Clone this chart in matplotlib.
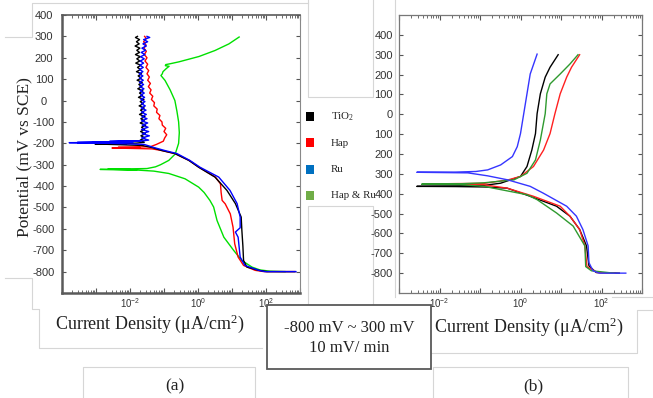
import numpy as np
import matplotlib
matplotlib.use('Agg')
import matplotlib.pyplot as plt
from matplotlib.transforms import Affine2D
from matplotlib.patches import Rectangle
from matplotlib.lines import Line2D
from matplotlib.ticker import FixedLocator, FuncFormatter, LogLocator, NullFormatter

plt.rcParams['font.family'] = ['Liberation Sans Narrow', 'Liberation Sans', 'DejaVu Sans']
plt.rcParams['mathtext.fontset'] = 'custom'
plt.rcParams['mathtext.rm'] = 'Liberation Serif'
plt.rcParams['mathtext.it'] = 'Liberation Serif:italic'
plt.rcParams['mathtext.bf'] = 'Liberation Serif:bold'

# ---------------- data ----------------
series_names = ['TiO$_2$', 'Hap', 'Ru', 'Hap & Ru']
legend_colors = ['#000000', '#ff0000', '#0070c0', '#70ad47']

# panel (a): potential (mV vs SCE) and log10 current density (uA/cm2)
a_tio2_E = [-800, -800, -794, -779, -748, -680, -607, -545, -482, -420, -358, -312, -280, -248, -234, -220,
            -210, -206, -203, -201, -204, -199,
            -195, -185, -175, -165, -155, -145, -135, -125, -115, -105, -95, -85, -75, -65, -55, -45, -35,
            -25, -15, -5, 5, 15, 25, 35, 45, 55, 65, 75, 85, 95, 105, 115, 125, 135, 145, 155, 165, 175,
            185, 195, 205, 215, 225, 235, 245, 255, 265, 275, 285, 295, 300]
a_tio2_logi = [2.85, 2.03, 1.79, 1.44, 1.34, 1.32, 1.29, 1.27, 1.10, 0.85, 0.50, 0.02, -0.27, -0.68, -1.06, -1.35,
               -1.65, -2.40, -3.03, -2.10, -2.80, -1.80,
               -1.58, -1.70, -1.56, -1.68, -1.55, -1.69, -1.57, -1.66, -1.54, -1.70, -1.58, -1.68, -1.56,
               -1.72, -1.60, -1.69, -1.58, -1.73, -1.61, -1.70, -1.59, -1.75, -1.63, -1.72, -1.62, -1.77,
               -1.65, -1.74, -1.64, -1.79, -1.67, -1.76, -1.66, -1.81, -1.69, -1.78, -1.68, -1.83, -1.71,
               -1.80, -1.70, -1.84, -1.72, -1.80, -1.71, -1.85, -1.73, -1.81, -1.72, -1.84, -1.78]

a_hap_E = [-800, -800, -800, -794, -771, -732, -670, -592, -530, -483, -467, -430, -389, -358, -312, -280,
           -248, -234, -226, -222, -220, -219, -216,
           -205, -190, -175, -160, -145, -130, -115, -100, -85, -70, -55, -40, -25, -10, 5, 20, 35, 50, 65,
           80, 95, 110, 125, 140, 155, 170, 185, 200, 215, 230, 245, 260, 275, 290, 300]
a_hap_logi = [2.85, 2.50, 1.94, 1.68, 1.34, 1.18, 1.08, 1.03, 0.95, 0.80, 0.71, 0.68, 0.66, 0.51, 0.03, -0.26,
              -0.68, -1.06, -1.35, -2.53, -1.70, -2.35, -1.40,
              -1.22, -1.02, -0.98, -0.92, -1.00, -0.95, -1.05, -1.06, -1.15, -1.12, -1.22, -1.20, -1.30,
              -1.28, -1.37, -1.33, -1.42, -1.38, -1.46, -1.40, -1.48, -1.43, -1.50, -1.45, -1.53, -1.48,
              -1.56, -1.50, -1.58, -1.52, -1.59, -1.53, -1.60, -1.52, -1.57]

a_ru_E = [-800, -800, -794, -771, -732, -685, -639, -615, -595, -545, -482, -420, -358, -312, -280, -248,
          -234, -220, -205, -200, -197, -195, -196, -193, -194, -190, -191, -188,
          -185, -175, -165, -155, -145, -135, -125, -115, -105, -95, -85, -75, -65, -55, -45, -35, -25,
          -15, -5, 5, 15, 25, 35, 45, 55, 65, 75, 85, 95, 105, 115, 125, 135, 145, 155, 165, 175, 185,
          195, 205, 215, 225, 235, 245, 255, 265, 275, 285, 295, 300]
a_ru_logi = [2.88, 1.97, 1.79, 1.38, 1.24, 1.21, 1.18, 1.10, 1.24, 1.24, 1.15, 0.94, 0.61, 0.06, -0.24, -0.62,
             -0.97, -1.29, -1.59, -2.60, -3.79, -2.20, -3.55, -1.90, -3.10, -1.70, -2.60, -1.60,
             -1.45, -1.66, -1.43, -1.64, -1.45, -1.66, -1.47, -1.64, -1.48, -1.66, -1.50, -1.65, -1.52,
             -1.66, -1.53, -1.67, -1.55, -1.66, -1.56, -1.68, -1.57, -1.69, -1.58, -1.70, -1.59, -1.71,
             -1.60, -1.72, -1.61, -1.72, -1.62, -1.73, -1.62, -1.72, -1.61, -1.71, -1.60, -1.70, -1.58,
             -1.69, -1.56, -1.67, -1.54, -1.65, -1.52, -1.62, -1.48, -1.60, -1.42, -1.50]

a_hapru_E = [-800, -798, -792, -779, -748, -701, -639, -561, -498, -467, -430, -405, -366, -341, -330, -323,
             -322, -324, -321, -318,
             -310, -300, -280, -250, -200, -150, -100, -50, 0, 50, 94, 117, 125, 135, 150, 160, 163, 168,
             172, 181, 206, 234, 265, 297]
a_hapru_logi = [2.56, 2.12, 1.82, 1.59, 1.29, 1.05, 0.76, 0.56, 0.46, 0.35, 0.18, 0.02, -0.38, -0.86, -1.30,
                -2.00, -2.88, -1.80, -2.65, -1.50,
                -1.25, -1.10, -0.86, -0.67, -0.57, -0.55, -0.57, -0.62, -0.68, -0.82, -0.97, -1.09, -1.05,
                -1.03, -0.93, -0.85, -0.96, -0.95, -0.82, -0.56, 0.03, 0.50, 0.91, 1.21]

# panel (b)
b_tio2_E = [-800, -797, -763, -663, -580, -513, -463, -413, -372, -366, -364, -363, -361, -358, -347, -313,
            -263, -180, -97, 3, 103, 187, 237, 300]
b_tio2_logi = [2.44, 1.87, 1.69, 1.63, 1.46, 1.22, 0.89, 0.24, -0.33, -0.90, -1.60, -2.56, -1.60, -0.90,
               -0.49, 0.00, 0.16, 0.28, 0.37, 0.41, 0.49, 0.61, 0.73, 0.93]

b_hap_E = [-800, -797, -767, -663, -580, -513, -463, -413, -372, -355, -352, -351, -349, -348, -330, -313,
           -263, -180, -97, 3, 103, 187, 237, 300]
b_hap_logi = [2.30, 1.90, 1.64, 1.59, 1.46, 1.22, 0.98, 0.32, -0.33, -0.90, -1.60, -2.28, -1.60, -0.90,
              -0.30, 0.00, 0.32, 0.57, 0.73, 0.85, 0.98, 1.14, 1.26, 1.46]

b_ru_E = [-800, -800, -788, -747, -663, -580, -513, -463, -397, -363, -330, -310, -295, -292, -291, -288,
          -280, -255, -213, -163, -97, 3, 103, 203, 303]
b_ru_logi = [2.60, 1.95, 1.79, 1.69, 1.67, 1.54, 1.38, 1.14, 0.56, 0.24, -0.32, -0.81, -1.30, -2.56, -1.60,
             -1.10, -0.81, -0.49, -0.20, -0.08, 0.00, 0.08, 0.16, 0.24, 0.41]

b_hapru_E = [-800, -788, -767, -663, -563, -497, -430, -405, -363, -354, -352, -350, -345, -330, -297, -230,
             -130, 3, 103, 153, 203, 253, 300]
b_hapru_logi = [2.30, 1.75, 1.61, 1.59, 1.30, 0.89, 0.41, 0.16, -0.90, -1.50, -2.44, -1.50, -0.90, -0.16,
                0.16, 0.37, 0.49, 0.61, 0.65, 0.73, 0.98, 1.22, 1.42]

a_yticks = [-800, -700, -600, -500, -400, -300, -200, -100, 0, 100, 200, 300, 400]
a_yticklabels = ['-800', '-700', '-600', '-500', '-400', '-300', '-200', '-100', '0', '100', '200', '300', '400']
b_yticks = [-800, -700, -600, -500, -400, -300, -200, -100, 0, 100, 200, 300, 400]
b_yticklabels = ['-800', '-700', '-600', '-500', '400', '300', '200', '100', '0', '100', '200', '300', '400']

xlabel = 'Current Density (μA/cm$^{2}$)'
ylabel = 'Potential (mV vs SCE)'
cond_text = '-800 mV ~ 300 mV\n10 mV/ min'

# ---------------- figure ----------------
W, H = 653, 398
fig = plt.figure(figsize=(W / 100, H / 100), dpi=100)
fig.patch.set_facecolor('white')
PX = Affine2D().scale(1 / W, -1 / H).translate(0, 1) + fig.transFigure


def px_axes(x0, y0, x1, y1):
    return fig.add_axes([x0 / W, 1 - y1 / H, (x1 - x0) / W, (y1 - y0) / H])


def deco(points, color='#d6d6d6', lw=0.8):
    xs, ys = zip(*points)
    fig.add_artist(Line2D(xs, ys, transform=PX, color=color, lw=lw, zorder=0))


# decorative slide frames
deco([(5, 37), (32, 37), (32, 3), (308, 3)])
deco([(308, 0), (308, 97), (373, 97), (373, 0)])
deco([(308, 305), (308, 206), (373, 206), (373, 305)])
deco([(395, 0), (395, 297)])
deco([(612, 297), (653, 297)])
deco([(5, 278), (32, 278), (32, 309), (39, 309), (39, 348), (262, 348)])
deco([(431, 353), (637, 353), (637, 310), (653, 310)])
deco([(83, 398), (83, 367), (255, 367), (255, 398)])
deco([(433, 398), (433, 367), (628, 367), (628, 398)])


def xfmt(v, pos):
    e = int(round(np.log10(v)))
    if e in (-2, 0, 2):
        return r'$\mathdefault{10^{%d}}$' % e
    return ''


def style_axes(ax, xlim, ylim, yticks, ylabels, ypad, yha):
    ax.set_xscale('log')
    ax.set_xlim(*xlim)
    ax.set_ylim(*ylim)
    ax.set_yticks(yticks)
    ax.set_yticklabels(ylabels, ha=yha)
    e0, e1 = int(np.log10(xlim[0])), int(np.log10(xlim[1]))
    ax.xaxis.set_major_locator(FixedLocator([10.0 ** e for e in range(e0, e1 + 1)]))
    ax.xaxis.set_major_formatter(FuncFormatter(xfmt))
    ax.xaxis.set_minor_locator(LogLocator(base=10, subs=np.arange(2, 10), numticks=30))
    ax.xaxis.set_minor_formatter(NullFormatter())
    ax.tick_params(which='both', direction='in', top=True, right=True, colors='#555555')
    ax.tick_params(axis='y', which='major', length=3, width=0.8, labelsize=8, pad=ypad, labelcolor='#333333')
    ax.tick_params(axis='x', which='major', length=3.5, width=0.8, labelsize=7, pad=2.5, labelcolor='#333333')
    ax.tick_params(axis='x', which='minor', length=2, width=0.6)


# panel (a)
ax_a = px_axes(62, 15, 300, 293)
style_axes(ax_a, (1e-4, 1e3), (-900, 400), a_yticks, a_yticklabels, 13.0, 'center')
for sp in ['left', 'bottom']:
    ax_a.spines[sp].set_linewidth(1.8)
    ax_a.spines[sp].set_color('#5a5a5a')
ax_a.spines['top'].set_linewidth(1.2)
ax_a.spines['top'].set_color('#5a5a5a')
ax_a.spines['right'].set_linewidth(0.8)
ax_a.spines['right'].set_color('#888888')

a_colors = ['#000000', '#ff0000', '#0000ff', '#00e000']
# draw order: green, red, black, blue
ax_a.plot(10 ** np.array(a_hapru_logi), a_hapru_E, color=a_colors[3], lw=1.0)
ax_a.plot(10 ** np.array(a_hap_logi), a_hap_E, color=a_colors[1], lw=1.0)
ax_a.plot(10 ** np.array(a_tio2_logi), a_tio2_E, color=a_colors[0], lw=1.0)
ax_a.plot(10 ** np.array(a_ru_logi), a_ru_E, color=a_colors[2], lw=1.0)

# panel (b)
ax_b = px_axes(399, 15, 642, 293)
style_axes(ax_b, (1e-3, 1e3), (-900, 500), b_yticks, b_yticklabels, 4.3, 'right')
for sp in ax_b.spines.values():
    sp.set_linewidth(0.9)
    sp.set_color('#777777')

b_colors = ['#000000', '#ff2020', '#3535ff', '#2f9a2f']
ax_b.plot(10 ** np.array(b_tio2_logi), b_tio2_E, color=b_colors[0], lw=1.0)
ax_b.plot(10 ** np.array(b_hap_logi), b_hap_E, color=b_colors[1], lw=1.0)
ax_b.plot(10 ** np.array(b_hapru_logi), b_hapru_E, color=b_colors[3], lw=1.0)
ax_b.plot(10 ** np.array(b_ru_logi), b_ru_E, color=b_colors[2], lw=1.0)

# labels
serif = ['Liberation Serif', 'DejaVu Serif']
fig.text(24 / W, 1 - 157 / H, ylabel, rotation=90, ha='center', va='center', fontsize=12.5,
         family=serif, color='#222222')
fig.text(150 / W, 1 - 324 / H, xlabel, ha='center', va='center', fontsize=13, family=serif, color='#222222')
fig.text(529 / W, 1 - 327 / H, xlabel, ha='center', va='center', fontsize=13, family=serif, color='#222222')
fig.text(175 / W, 1 - 386 / H, '(a)', ha='center', va='center', fontsize=12.5, family=serif, color='#222222')
fig.text(533 / W, 1 - 386 / H, '(b)', ha='center', va='center', fontsize=12.5, family=serif, color='#222222')

# legend (manual, between panels)
leg_y = [117, 143, 170, 196]
for name, col, y in zip(series_names, legend_colors, leg_y):
    fig.add_artist(Rectangle((306, y - 5), 8, 9, transform=PX, facecolor=col, edgecolor='none', zorder=5))
    fig.text(331 / W, 1 - y / H, name, ha='left', va='center', fontsize=7.8, family=serif, color='#222222',
             zorder=6)

# condition box
fig.add_artist(Rectangle((267, 305), 164, 64, transform=PX, facecolor='white', edgecolor='#595959',
                         lw=1.3, zorder=10))
fig.text(349 / W, 1 - 338 / H, cond_text, ha='center', va='center', fontsize=12, family=serif,
         color='#222222', linespacing=1.25, zorder=11)

fig.savefig('out.png', dpi=100, facecolor='white')
